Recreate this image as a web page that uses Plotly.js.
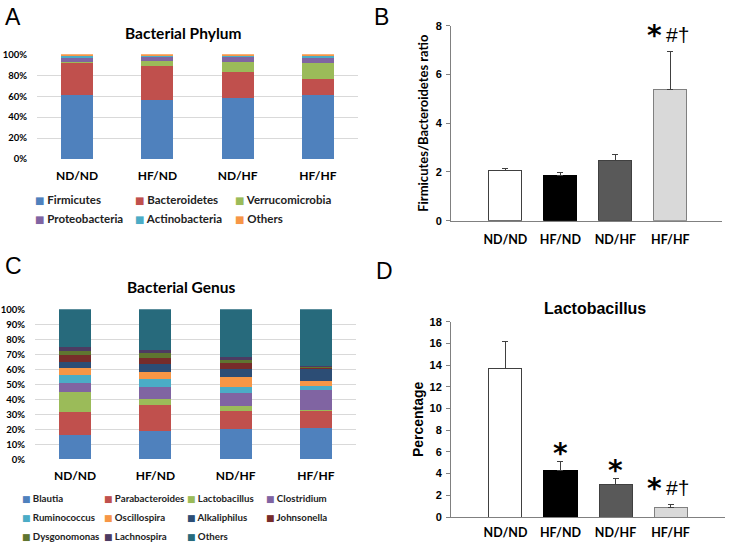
<!DOCTYPE html>
<html><head><meta charset="utf-8">
<script src="https://cdn.plot.ly/plotly-3.0.1.min.js"></script>
<style>html,body{margin:0;padding:0;background:#fff}#chart{width:731px;height:543px}</style>
</head><body><div id="chart"></div>
<script>
// ---------- data ----------
const groups = ['ND/ND', 'HF/ND', 'ND/HF', 'HF/HF'];

// Panel A: phylum composition (%)
const phylumNames = ['Firmicutes', 'Bacteroidetes', 'Verrucomicrobia', 'Proteobacteria', 'Actinobacteria', 'Others'];
const firmicutes      = [61.5, 56.5, 58.5, 61.0];
const bacteroidetes   = [30.5, 32.0, 25.0, 15.0];
const verrucomicrobia = [1.0, 5.5, 9.0, 16.0];
const proteobacteria  = [3.0, 3.0, 4.5, 4.5];
const actinobacteria  = [2.0, 1.5, 1.5, 1.5];
const phylumOthers    = [2.0, 1.5, 1.5, 2.0];
const phylumTicks     = [0, 20, 40, 60, 80, 100];

// Panel B: Firmicutes/Bacteroidetes ratio
const fbRatio    = [2.05, 1.85, 2.48, 5.39];
const fbRatioErr = [0.10, 0.11, 0.24, 1.55];
const fbSig      = ['', '', '', '*#†'];
const fbTicks    = [0, 2, 4, 6, 8];

// Panel C: genus composition (%)
const genusNames = ['Blautia', 'Parabacteroides', 'Lactobacillus', 'Clostridium', 'Ruminococcus', 'Oscillospira', 'Alkaliphilus', 'Johnsonella', 'Dysgonomonas', 'Lachnospira', 'Others'];
const blautia         = [16.0, 19.0, 20.0, 21.0];
const parabacteroides = [15.5, 17.0, 12.5, 11.0];
const lactobacillus   = [13.5, 4.0, 3.0, 1.0];
const clostridium     = [6.0, 8.0, 8.5, 13.0];
const ruminococcus    = [5.0, 5.5, 4.0, 3.0];
const oscillospira    = [5.0, 5.0, 7.0, 3.0];
const alkaliphilus    = [4.0, 5.0, 5.0, 8.0];
const johnsonella     = [4.5, 4.0, 4.0, 1.0];
const dysgonomonas    = [2.5, 3.5, 2.5, 0.7];
const lachnospira     = [3.0, 2.0, 2.0, 0.5];
const genusOthers     = [25.0, 27.0, 31.5, 37.8];
const genusTicks      = [0, 10, 20, 30, 40, 50, 60, 70, 80, 90, 100];

// Panel D: Lactobacillus percentage
const lactoPct    = [13.67, 4.33, 3.04, 0.83];
const lactoPctErr = [2.48, 0.74, 0.52, 0.31];
const lactoSig    = ['', '*', '*', '*#†'];
const lactoTicks  = [0, 2, 4, 6, 8, 10, 12, 14, 16, 18];

// ---------- styles ----------
const phylumColors = ['#4F81BD', '#C0504D', '#9BBB59', '#8064A2', '#4BACC6', '#F79646'];
const genusColors = ['#4F81BD', '#C0504D', '#9BBB59', '#8064A2', '#4BACC6', '#F79646', '#2C4D75', '#772C2A', '#5F7530', '#4D3B62', '#276A7C'];
const barFill = ['#FFFFFF', '#000000', '#595959', '#D9D9D9'];
const barLine = ['#404040', '#000000', '#404040', '#808080'];
const CAL = 'Lato, "Open Sans", sans-serif';
const ARIAL = '"Liberation Sans", Arial, sans-serif';
const NARROW = '"Liberation Sans Narrow", "Liberation Sans", Arial, sans-serif';
const W = 731, H = 543;
const px = x => x / W, py = y => 1 - y / H;

const phylumSeries = [firmicutes, bacteroidetes, verrucomicrobia, proteobacteria, actinobacteria, phylumOthers];
const genusSeries = [blautia, parabacteroides, lactobacillus, clostridium, ruminococcus, oscillospira, alkaliphilus, johnsonella, dysgonomonas, lachnospira, genusOthers];

const traces = [];
phylumSeries.forEach((vals, i) => traces.push({
  type: 'bar', x: groups, y: vals, name: phylumNames[i], xaxis: 'x', yaxis: 'y',
  width: 0.4, marker: {color: phylumColors[i], line: {width: 0}}, showlegend: false, hoverinfo: 'skip'
}));
genusSeries.forEach((vals, i) => traces.push({
  type: 'bar', x: groups, y: vals, name: genusNames[i], xaxis: 'x3', yaxis: 'y3',
  width: 0.4, marker: {color: genusColors[i], line: {width: 0}}, showlegend: false, hoverinfo: 'skip'
}));
traces.push({
  type: 'bar', x: groups, y: fbRatio, xaxis: 'x2', yaxis: 'y2', width: 0.6,
  marker: {color: barFill, line: {color: barLine, width: 1}},
  error_y: {type: 'data', symmetric: false, array: fbRatioErr, arrayminus: fbRatioErr.map(() => 0), color: '#404040', thickness: 1, width: 3},
  showlegend: false, hoverinfo: 'skip'
});
traces.push({
  type: 'bar', x: groups, y: lactoPct, xaxis: 'x4', yaxis: 'y4', width: 0.6,
  marker: {color: barFill, line: {color: barLine, width: 1}},
  error_y: {type: 'data', symmetric: false, array: lactoPctErr, arrayminus: lactoPctErr.map(() => 0), color: '#404040', thickness: 1, width: 3},
  showlegend: false, hoverinfo: 'skip'
});

const ann = [];
function label(text, x, y, font, extra) {
  ann.push(Object.assign({text, x: px(x), y: py(y), xref: 'paper', yref: 'paper', showarrow: false,
    xanchor: 'center', yanchor: 'middle', font}, extra || {}));
}
// panel letters
label('A', 13, 17, {family: ARIAL, size: 23, color: '#000'});
label('B', 381, 17, {family: ARIAL, size: 23, color: '#000'});
label('C', 13.5, 266, {family: ARIAL, size: 23, color: '#000'});
label('D', 384.5, 271, {family: ARIAL, size: 23, color: '#000'});
// titles
label('Bacterial Phylum', 182.5, 33, {family: CAL, size: 15.5, color: '#000', weight: 'bold'});
label('Bacterial Genus', 181, 287, {family: CAL, size: 15.5, color: '#000', weight: 'bold'});
label('Lactobacillus', 595, 308, {family: ARIAL, size: 16, color: '#000', weight: 'bold'});

// legends (Excel style)
const legACols = [33, 133, 233], legARows = [199, 219];
phylumNames.forEach((n, i) => {
  label('<span style="color:' + phylumColors[i] + ';font-size:10px;font-family:DejaVu Sans">■</span> ' + n,
    legACols[i % 3], legARows[Math.floor(i / 3)], {family: CAL, size: 11.5, color: '#222', weight: 'bold'}, {xanchor: 'left'});
});
const legCCols = [20, 102, 185, 264], legCRows = [498, 517, 536];
genusNames.forEach((n, i) => {
  label('<span style="color:' + genusColors[i] + ';font-size:9px;font-family:DejaVu Sans">■</span> ' + n,
    legCCols[i % 4], legCRows[Math.floor(i / 4)], {family: CAL, size: 9.7, color: '#222', weight: 'bold'}, {xanchor: 'left'});
});

// significance marks
function sig(marks, vals, errs, xa, ya) {
  marks.forEach((m, i) => {
    if (!m) return;
    const top = vals[i] + errs[i];
    const rest = m.slice(1);
    const lift = rest ? 19 : 11;
    ann.push({text: '*', x: groups[i], y: top, xref: xa, yref: ya, showarrow: false,
      xanchor: 'center', yanchor: 'middle', yshift: lift - 3, xshift: rest ? -16 : 0,
      font: {family: 'DejaVu Sans', size: 28, color: '#000', weight: 'bold'}});
    if (rest) ann.push({text: rest, x: groups[i], y: top, xref: xa, yref: ya, showarrow: false,
      xanchor: 'center', yanchor: 'middle', yshift: lift - 2, xshift: 7,
      font: {family: ARIAL, size: 21, color: '#000'}});
  });
}
sig(fbSig, fbRatio, fbRatioErr, 'x2', 'y2');
sig(lactoSig, lactoPct, lactoPctErr, 'x4', 'y4');

const catAxis = (anchor, domain, range) => ({
  anchor, domain, range, type: 'category', showgrid: false, zeroline: false, showline: false, ticks: '',
  tickfont: {family: CAL, size: 12, color: '#000', weight: 'bold'}, ticklabelstandoff: 8, fixedrange: true
});
const pctAxis = (anchor, domain, vals) => ({
  anchor, domain, range: [0, 100], tickmode: 'array', tickvals: vals, ticktext: vals.map(v => v + '%'),
  showgrid: true, gridcolor: '#D9D9D9', zeroline: false, showline: false, ticks: '',
  tickfont: {family: CAL, size: 9.5, color: '#000', weight: 'bold'}, ticklabelstandoff: 9
});
const numAxis = (anchor, domain, vals, title, tfont, standoff) => ({
  anchor, domain, range: [0, vals[vals.length - 1]], tickmode: 'array', tickvals: vals, showgrid: false, zeroline: false,
  showline: true, linecolor: '#808080', linewidth: 1, ticks: 'outside', ticklen: 4, tickcolor: '#808080',
  tickfont: {family: NARROW, size: 11, color: '#000', weight: 'bold'}, ticklabelstandoff: 2,
  title: {text: title, font: tfont, standoff}
});
const layout = {
  width: W, height: H, margin: {l: 0, r: 0, t: 0, b: 0}, paper_bgcolor: '#fff', plot_bgcolor: 'rgba(0,0,0,0)',
  barmode: 'stack', showlegend: false,
  xaxis: catAxis('y', [px(37), px(358)], [-0.5, 3.5]),
  yaxis: pctAxis('x', [py(159), py(54.3)], phylumTicks),
  xaxis3: catAxis('y3', [px(35), px(356)], [-0.5, 3.5]),
  yaxis3: pctAxis('x3', [py(459.3), py(309.3)], genusTicks),
  xaxis2: Object.assign(catAxis('y2', [px(451), px(722)], [-0.99, 3.94]),
    {showline: true, linecolor: '#808080', linewidth: 1, ticklabelstandoff: 7, tickfont: {family: CAL, size: 12.5, color: '#000', weight: 'bold'}}),
  yaxis2: numAxis('x2', [py(220.7), py(25.7)], fbTicks, 'Firmicutes/Bacteroidetes ratio', {family: CAL, size: 13, color: '#000', weight: 'bold'}, 4),
  xaxis4: Object.assign(catAxis('y4', [px(451), px(725)], [-0.99, 3.99]),
    {showline: true, linecolor: '#808080', linewidth: 1, ticklabelstandoff: 4, tickfont: {family: CAL, size: 12.5, color: '#000', weight: 'bold'}}),
  yaxis4: numAxis('x4', [py(517), py(321.7)], lactoTicks, 'Percentage', {family: ARIAL, size: 14, color: '#000', weight: 'bold'}, 2),
  annotations: ann
};
Plotly.newPlot('chart', traces, layout, {staticPlot: true, displayModeBar: false});
</script></body></html>
